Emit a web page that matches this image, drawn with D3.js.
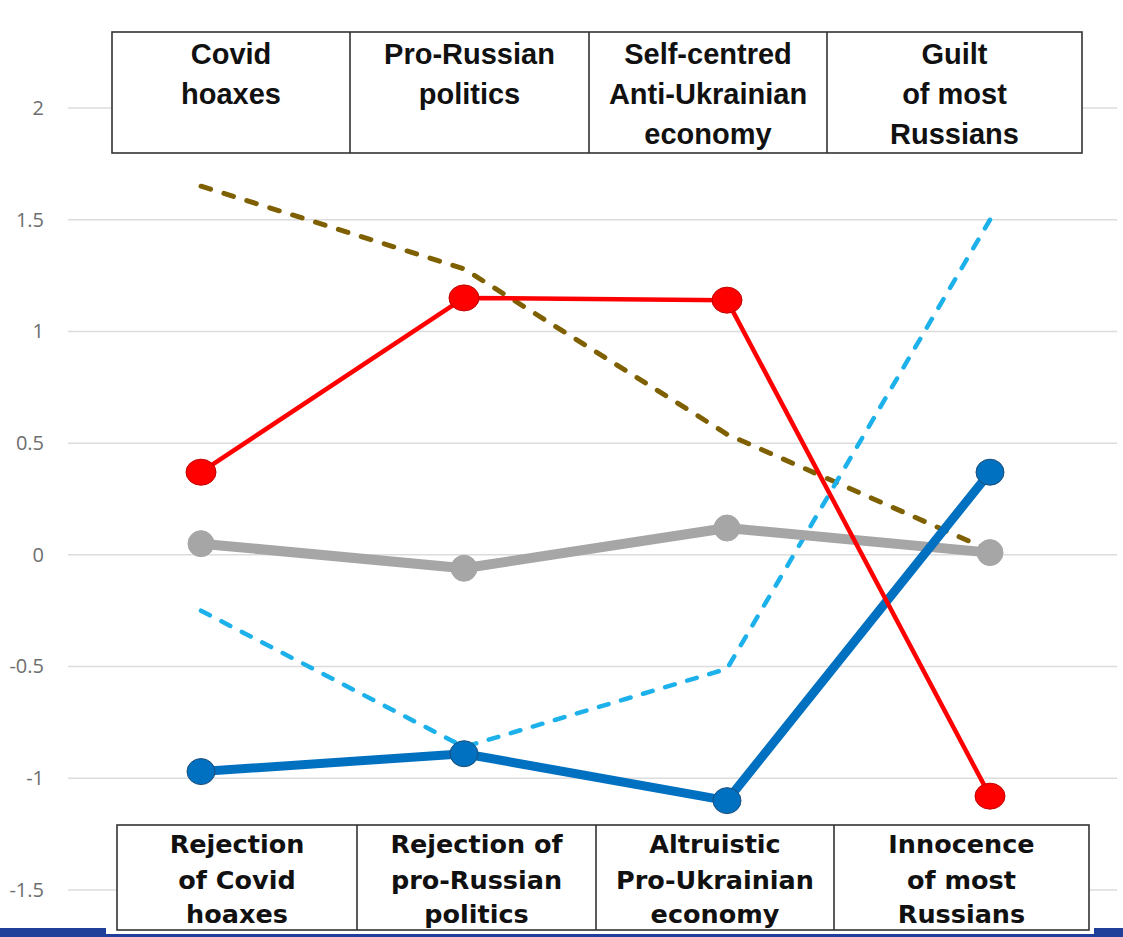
<!DOCTYPE html>
<html>
<head>
<meta charset="utf-8">
<script src="https://cdn.jsdelivr.net/npm/d3@7"></script>
<style>
  html, body { margin: 0; padding: 0; background: #fff; }
  svg { display: block; }
</style>
</head>
<body>
<svg id="chart"></svg>
<script>
// categories (one per column)
var categories = ["c1", "c2", "c3", "c4"];

// y axis ticks
var yTicks = [2, 1.5, 1, 0.5, 0, -0.5, -1, -1.5];

// series values
var olive = [1.65, 1.28, 0.54, 0.02];
var lightBlue = [-0.25, -0.86, -0.51, 1.50];
var gray = [0.05, -0.06, 0.12, 0.01];
var blue = [-0.97, -0.89, -1.10, 0.37];
var red = [0.37, 1.15, 1.14, -1.08];

// header / footer labels
var topLabels = [
  ["Covid", "hoaxes"],
  ["Pro-Russian", "politics"],
  ["Self-centred", "Anti-Ukrainian", "economy"],
  ["Guilt", "of most", "Russians"]
];
var bottomLabels = [
  ["Rejection", "of Covid", "hoaxes"],
  ["Rejection of", "pro-Russian", "politics"],
  ["Altruistic", "Pro-Ukrainian", "economy"],
  ["Innocence", "of most", "Russians"]
];

var width = 1123, height = 937;
var svg = d3.select("#chart").attr("width", width).attr("height", height);

var gGrid = svg.append("g");
var gAxis = svg.append("g");
var gTables = svg.append("g");
var gLines = svg.append("g");
var gMarkers = svg.append("g");

var xScale = d3.scalePoint().domain(categories).range([201, 990]);
var yScale = d3.scaleLinear().domain([-1.5, 2]).range([890, 108]);

// gridlines
gGrid.selectAll("line")
  .data(yTicks)
  .enter()
  .append("line")
  .attr("x1", 68)
  .attr("x2", 1117)
  .attr("y1", function(d){ return yScale(d); })
  .attr("y2", function(d){ return yScale(d); })
  .attr("stroke", "#dcdcdc")
  .attr("stroke-width", 1.5);

// y axis labels
var yAxis = d3.axisLeft(yScale)
  .tickValues(yTicks)
  .tickSize(0)
  .tickPadding(0)
  .tickFormat(function(d){ return String(d); });

gAxis.attr("transform", "translate(44, 0)").call(yAxis);
gAxis.select(".domain").remove();
gAxis.selectAll("text")
  .attr("fill", "#6e6e6e")
  .style("font-family", "'Open Sans', sans-serif")
  .style("font-size", "20px");

// tables
function drawTable(labels, cols, top, bottom, baselines, font, size){
  var g = gTables.append("g");
  g.append("rect")
    .attr("x", cols[0])
    .attr("y", top)
    .attr("width", cols[cols.length-1] - cols[0])
    .attr("height", bottom - top)
    .attr("fill", "#fff")
    .attr("stroke", "#333")
    .attr("stroke-width", 1.6);
  for(var i = 1; i < cols.length-1; i++){
    g.append("line")
      .attr("x1", cols[i]).attr("x2", cols[i])
      .attr("y1", top).attr("y2", bottom)
      .attr("stroke", "#333")
      .attr("stroke-width", 1.6);
  }
  labels.forEach(function(lines, i){
    var cx = (cols[i] + cols[i+1]) / 2;
    lines.forEach(function(t, j){
      g.append("text")
        .attr("x", cx)
        .attr("y", baselines[j])
        .attr("text-anchor", "middle")
        .attr("fill", "#111")
        .style("font-family", font)
        .style("font-weight", "bold")
        .style("font-size", size)
        .text(t);
    });
  });
}

drawTable(topLabels, [112, 350, 589, 827, 1082], 32, 153, [64, 104, 144],
  "'Liberation Sans', Arial, sans-serif", "29px");
drawTable(bottomLabels, [117, 357, 596, 834, 1089], 825, 930, [853, 889, 923],
  "'DejaVu Sans', sans-serif", "25.5px");

// blue strip at the bottom
svg.append("rect").attr("x", 0).attr("y", 928).attr("width", 106).attr("height", 9).attr("fill", "#1f3f9a");
svg.append("rect").attr("x", 1094).attr("y", 928).attr("width", 29).attr("height", 9).attr("fill", "#1f3f9a");
svg.append("rect").attr("x", 106).attr("y", 934).attr("width", 988).attr("height", 3).attr("fill", "#1f3f9a");

var line = d3.line()
  .x(function(d, i){ return xScale(categories[i]); })
  .y(function(d){ return yScale(d); });

var series = [
  {values: olive, color: "#7f6000", width: 5, dash: "10,14", cap: "round", marker: null},
  {values: lightBlue, color: "#1db1ec", width: 4.5, dash: "10,13", cap: "round", marker: null},
  {values: gray, color: "#a6a6a6", width: 10, dash: null, cap: "butt", marker: {fill: "#a6a6a6", stroke: "#a6a6a6", rx: 13, ry: 13}},
  {values: blue, color: "#0070c0", width: 9, dash: null, cap: "butt", marker: {fill: "#0070c0", stroke: "#1f4e79", rx: 14, ry: 13}},
  {values: red, color: "#ff0000", width: 4.5, dash: null, cap: "butt", marker: {fill: "#ff0000", stroke: "#c00000", rx: 15, ry: 13}}
];

series.forEach(function(s){
  gLines.append("path")
    .datum(s.values)
    .attr("d", line)
    .attr("fill", "none")
    .attr("stroke", s.color)
    .attr("stroke-width", s.width)
    .attr("stroke-dasharray", s.dash)
    .attr("stroke-linecap", s.cap)
    .attr("stroke-linejoin", "round");
});

series.forEach(function(s){
  if(!s.marker) return;
  gMarkers.append("g").selectAll("ellipse")
    .data(s.values)
    .enter()
    .append("ellipse")
    .attr("cx", function(d, i){ return xScale(categories[i]); })
    .attr("cy", function(d){ return yScale(d); })
    .attr("rx", s.marker.rx)
    .attr("ry", s.marker.ry)
    .attr("fill", s.marker.fill)
    .attr("stroke", s.marker.stroke)
    .attr("stroke-width", 1);
});
</script>
</body>
</html>
